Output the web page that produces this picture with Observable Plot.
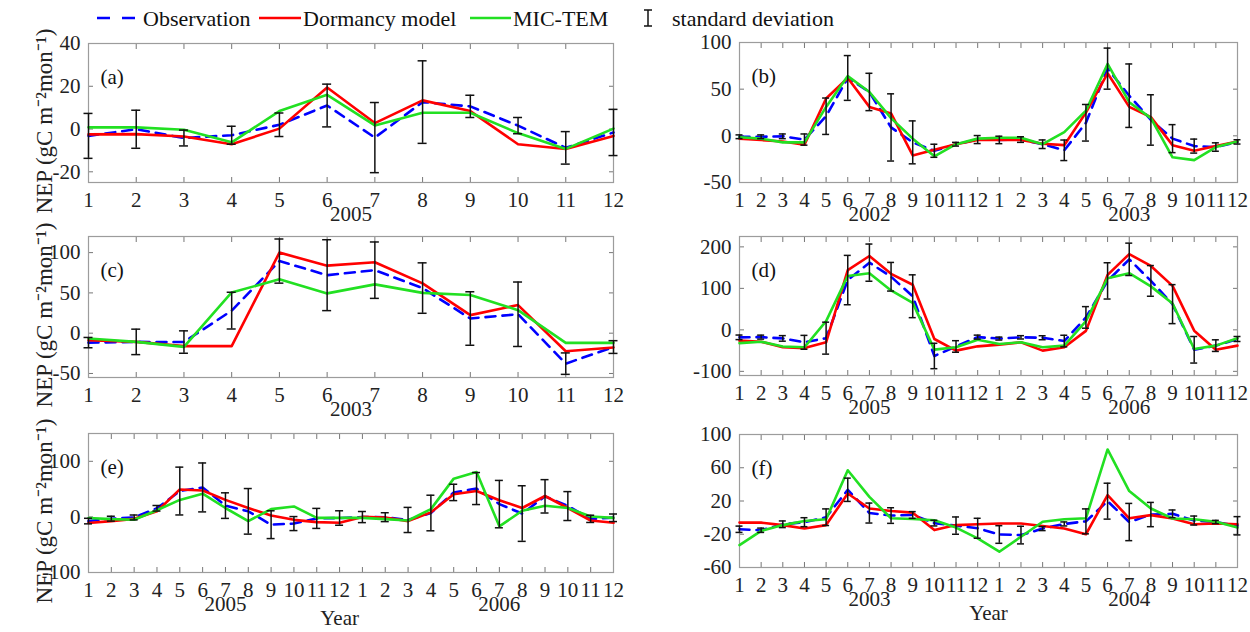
<!DOCTYPE html>
<html>
<head>
<meta charset="utf-8">
<script src="https://cdn.jsdelivr.net/npm/d3@7"></script>
<script src="https://cdn.jsdelivr.net/npm/@observablehq/plot@0.6"></script>
<style>
  html, body { margin: 0; padding: 0; background: #fff; overflow: hidden; }
  #wrap { position: relative; width: 1250px; height: 632px; font-family: "Liberation Serif", "Times New Roman", serif; }
  .panel { position: absolute; overflow: visible; }
  #legend { position: absolute; left: 0; top: 0; }
</style>
</head>
<body>
<div id="wrap"><svg id="legend" width="1250" height="38"></svg></div>
<script>
// ---------------- data ----------------
const yLabelText = "NEP (gC m⁻²mon⁻¹)";
const seriesNames = ["Observation", "Dormancy model", "MIC-TEM", "standard deviation"];

// (a) 2005, 12 months
const obsA  = [-3.2, -0.1, -4.2, -2.9, 2.0, 11.0, -4.0, 12.6, 10.6, 1.6, -8.8, -1.6];
const sdA   = [10.5, 8.9, 3.7, 4.2, 5.5, 10.0, 16.4, 19.3, 5.2, 3.8, 7.6, 10.8];
const dormA = [-2.5, -2.4, -3.5, -7.1, 0.2, 19.4, 2.8, 13.4, 8.4, -7.1, -9.3, -3.2];
const micA  = [0.8, 0.8, -0.3, -6.2, 8.4, 16.0, 1.7, 7.6, 7.6, -1.9, -9.3, 0.2];

// (b) 2002-2003, 24 months
const obsB  = [-1, -1, -0.5, -4, 21, 62, 47, 9, -7, -16, -9, -4, -4.4, -4, -9, -15.5, 14, 72, 43, 17, -3, -11, -12, -6.5];
const sdB   = [2, 2, 2.5, 6, 19.5, 24, 20, 36, 23, 7, 2, 4.3, 4, 3, 4.6, 11, 19.6, 22, 34, 27, 15, 7.5, 4.5, 2.3];
const dormB = [-3, -4.5, -6, -9.5, 40, 62, 31, 24, -21, -15, -9, -4.5, -4.4, -4.4, -8.5, -10, 25, 67, 31, 20, -10, -16, -11, -6];
const micB  = [-1.5, -3, -7, -7, 31, 64, 47, 19, -3, -22, -9, -3, -2, -2, -9, 4, 27, 77, 36, 19, -23, -26, -12, -6];

// (c) 2003, 12 months
const obsC  = [-11.7, -10.8, -11, 28, 89.5, 72, 78.2, 56, 18.2, 23.5, -37.8, -17.2];
const sdC   = [6.4, 15.8, 13.9, 22.8, 27.4, 44, 35, 31.3, 33.2, 40, 13.3, 7.9];
const dormC = [-8.7, -10.8, -16, -16, 100, 83.8, 88, 61.8, 22.4, 34.9, -22.4, -17.8];
const micC  = [-6.6, -10.8, -17, 50.6, 66.8, 49.4, 60.6, 50, 47.3, 28.6, -12, -12];

// (d) 2005-2006, 24 months
const obsD  = [-18, -17.5, -20.6, -30, -20, 120, 162, 128, 81, -63, -40, -17.5, -21, -18, -19, -27, 30, 118, 170, 118, 62, -48, -38, -22];
const sdD   = [5.5, 4.8, 6.7, 16.7, 38.5, 59.5, 44.8, 34.5, 51.6, 30.6, 13.9, 4.8, 3.6, 4, 4.8, 14, 26, 43.7, 39, 37, 47, 32, 14, 6];
const dormD = [-26, -28.6, -42, -44, -30, 144, 178, 135, 108.7, -22, -50, -39.7, -35.7, -30, -50, -42, -2.4, 132.5, 182.5, 154, 106, -2, -48, -38];
const micD  = [-32, -28.6, -40, -42, 21, 130, 136.5, 95, 65, -47.6, -42, -24, -34, -30, -42, -38, 21, 124.6, 136.5, 104.8, 63.5, -46, -38, -20];

// (e) 2005-2006, 24 months
const obsE  = [-7.5, -3.2, -1, 15.5, 46.5, 53, 20.3, 10, -14, -12, -2.7, -2, -0.3, -0.5, -5.5, 7, 44, 51, 23, 6, 37, 19.5, -3.5, -1.6];
const sdE   = [5, 4.4, 4.4, 5, 43, 44, 23, 41, 25, 12.6, 18, 13, 10, 8, 22.6, 32, 14.7, 28.8, 42.6, 50, 30, 26, 6.5, 6.8];
const dormE = [-11, -7.6, -3.5, 10, 49.4, 47.6, 30.6, 16, 2.4, -5.3, -9.4, -10.6, 0, -1, -7.6, 8.2, 40.6, 46.5, 30, 16, 37.6, 16, -6.5, -10.6];
const micE  = [-2, -4, -5, 12, 30.6, 41.8, 16, -7.6, 14, 18.8, -1.8, -1.8, -1.8, -4, -6.5, 14, 68.8, 80.6, -17, 11, 20, 16, 0.6, -1.8];

// (f) 2003-2004, 24 months
const obsF  = [-14, -15.2, -8, -5.5, 0.5, 33.5, 5.5, 2.5, 3.2, -6.6, -9.6, -12.8, -20.3, -21, -13.2, -7.6, -4.5, 19.8, -5.3, 3.7, 4.6, -3.5, -5.3, -9.8];
const sdF   = [3.8, 2.6, 4, 5.4, 10, 14, 12, 9.4, 4, 3.4, 10.4, 12, 10.6, 10.6, 2.4, 2.4, 15, 21.6, 22.4, 14.6, 4.6, 5.4, 2, 11];
const dormF = [-6, -6, -9, -13, -9, 29, 11, 8, 6, -15, -9, -8, -7, -7, -10, -13, -20, 27, -0.8, 3, -1, -8, -7, -8];
const micF  = [-33, -16, -9, -4, -2, 57, 25, -0.8, -1.6, -3.2, -12, -25, -41, -23, -5, -2, -0.8, 82, 32, 11, -1, -2, -5, -12];

// tick values & year labels
const ticksA = [-20, 0, 20, 40];
const ticksB = [-50, 0, 50, 100];
const ticksC = [-50, 0, 50, 100];
const ticksD = [-100, 0, 100, 200];
const ticksE = [-100, 0, 100];
const ticksF = [-60, -20, 20, 60, 100];
const yearsA = [{x: 6.5, t: "2005"}];
const yearsB = [{x: 7, t: "2002"}, {x: 19, t: "2003"}];
const yearsC = [{x: 6.5, t: "2003"}];
const yearsD = [{x: 7, t: "2005"}, {x: 19, t: "2006"}];
const yearsE = [{x: 7, t: "2005"}, {x: 19, t: "2006"}];
const yearsF = [{x: 7, t: "2003"}, {x: 19, t: "2004"}];

// ---------------- style ----------------
const FONT = '"Liberation Serif", "Times New Roman", serif';
const C_OBS = "#0000ff", C_DORM = "#ff0000", C_MIC = "#22e022";
const DASH = "10,7";

function makePanel(cfg) {
  const n = cfg.obs.length;
  const months = d3.range(1, n + 1);
  const rows = months.map((m, i) => ({
    m, obs: cfg.obs[i], lo: cfg.obs[i] - cfg.sd[i], hi: cfg.obs[i] + cfg.sd[i],
    dorm: cfg.dorm[i], mic: cfg.mic[i]
  }));
  const fw = cfg.width - cfg.mL - cfg.mR;
  const cap = cfg.capPx / (fw / (n - 1));
  const marks = [
    Plot.axisX({ticks: months, tickSize: -5, tickPadding: 15, tickFormat: d => String((d - 1) % 12 + 1), label: null, stroke: "#777", fill: "#222"}),
    Plot.axisX({anchor: "top", ticks: months, tickSize: -5, tickFormat: () => "", label: null, stroke: "#777"}),
    Plot.axisY({ticks: cfg.yTicks, tickSize: -5, tickPadding: 13, label: null, stroke: "#777", fill: "#222", tickFormat: d => String(d)}),
    Plot.axisY({anchor: "right", ticks: cfg.yTicks, tickSize: -5, tickFormat: () => "", label: null, stroke: "#777"}),
    Plot.frame({stroke: "#9c9c9c", strokeWidth: 1.2}),
    Plot.lineY(rows, {x: "m", y: "obs", stroke: C_OBS, strokeWidth: 2.6, strokeDasharray: DASH}),
    Plot.lineY(rows, {x: "m", y: "dorm", stroke: C_DORM, strokeWidth: 2.6}),
    Plot.lineY(rows, {x: "m", y: "mic", stroke: C_MIC, strokeWidth: 2.6}),
    Plot.ruleX(rows, {x: "m", y1: "lo", y2: "hi", stroke: "#111", strokeWidth: 1.5}),
    Plot.ruleY(rows, {x1: d => d.m - cap, x2: d => d.m + cap, y: "hi", stroke: "#111", strokeWidth: 1.5}),
    Plot.ruleY(rows, {x1: d => d.m - cap, x2: d => d.m + cap, y: "lo", stroke: "#111", strokeWidth: 1.5}),
    Plot.text([cfg.letter], {frameAnchor: "top-left", dx: 12, dy: 26, textAnchor: "start", fill: "#111"}),
    Plot.text(cfg.years, {x: "x", text: "t", frameAnchor: "bottom", dy: 38, fill: "#222"})
  ];
  if (cfg.yLabel) marks.push(Plot.text([yLabelText], {frameAnchor: "left", dx: -44, dy: 8, rotate: -90, textAnchor: "middle", fontSize: 23, fill: "#222"}));
  if (cfg.xLabelAt) marks.push(Plot.text([{x: cfg.xLabelAt, t: "Year"}], {x: "x", text: "t", frameAnchor: "bottom", dy: 52, fill: "#222"}));
  const svg = Plot.plot({
    width: cfg.width, height: cfg.height,
    marginLeft: cfg.mL, marginRight: cfg.mR, marginTop: cfg.mT, marginBottom: cfg.mB,
    style: {fontFamily: FONT, fontSize: "21px", background: "transparent", color: "#222", overflow: "visible"},
    x: {domain: [1, n]},
    y: {domain: cfg.yDomain},
    marks
  });
  svg.classList.add("panel");
  svg.style.left = cfg.left + "px";
  svg.style.top = cfg.top + "px";
  svg.style.overflow = "visible";
  document.getElementById("wrap").appendChild(svg);
}

const L = {left: 0, width: 630, mL: 88, mR: 17};
const R = {left: 630, width: 620, mL: 109, mR: 13};

makePanel({...L, top: 29, height: 215, mT: 14, mB: 62, obs: obsA, sd: sdA, dorm: dormA, mic: micA, yDomain: [-25, 40], yTicks: ticksA, letter: "(a)", years: yearsA, yLabel: true, capPx: 4.5});
makePanel({...R, top: 28, height: 216, mT: 14, mB: 62, obs: obsB, sd: sdB, dorm: dormB, mic: micB, yDomain: [-50, 100], yTicks: ticksB, letter: "(b)", years: yearsB, capPx: 3.5});
makePanel({...L, top: 222, height: 217, mT: 14, mB: 62, obs: obsC, sd: sdC, dorm: dormC, mic: micC, yDomain: [-55, 120], yTicks: ticksC, letter: "(c)", years: yearsC, yLabel: true, capPx: 4.5});
makePanel({...R, top: 222, height: 215, mT: 14, mB: 62, obs: obsD, sd: sdD, dorm: dormD, mic: micD, yDomain: [-110, 225], yTicks: ticksD, letter: "(d)", years: yearsD, capPx: 3.5});
makePanel({...L, top: 419, height: 211, mT: 14, mB: 58, obs: obsE, sd: sdE, dorm: dormE, mic: micE, yDomain: [-100, 150], yTicks: ticksE, letter: "(e)", years: yearsE, yLabel: true, xLabelAt: 12, capPx: 4});
makePanel({...R, top: 420, height: 205, mT: 14, mB: 58, obs: obsF, sd: sdF, dorm: dormF, mic: micF, yDomain: [-60, 100], yTicks: ticksF, letter: "(f)", years: yearsF, xLabelAt: 12.5, capPx: 3.5});

// ---------------- legend ----------------
const lg = d3.select("#legend").style("font-family", FONT).style("font-size", "22px");
const ly = 18;
lg.append("line").attr("x1", 97).attr("x2", 136).attr("y1", ly).attr("y2", ly)
  .attr("stroke", C_OBS).attr("stroke-width", 2.6).attr("stroke-dasharray", "13,12");
lg.append("text").attr("x", 143).attr("y", ly).attr("dy", "0.35em").attr("fill", "#111").text(seriesNames[0]);
lg.append("line").attr("x1", 259).attr("x2", 301).attr("y1", ly).attr("y2", ly).attr("stroke", C_DORM).attr("stroke-width", 2.6);
lg.append("text").attr("x", 303).attr("y", ly).attr("dy", "0.35em").attr("fill", "#111").text(seriesNames[1]);
lg.append("line").attr("x1", 470).attr("x2", 511).attr("y1", ly).attr("y2", ly).attr("stroke", C_MIC).attr("stroke-width", 2.6);
lg.append("text").attr("x", 513).attr("y", ly).attr("dy", "0.35em").attr("fill", "#111").text(seriesNames[2]);
const eb = lg.append("g").attr("stroke", "#111").attr("stroke-width", 1.5);
eb.append("line").attr("x1", 648).attr("x2", 648).attr("y1", ly - 8).attr("y2", ly + 8);
eb.append("line").attr("x1", 644).attr("x2", 652).attr("y1", ly - 8).attr("y2", ly - 8);
eb.append("line").attr("x1", 644).attr("x2", 652).attr("y1", ly + 8).attr("y2", ly + 8);
lg.append("text").attr("x", 672).attr("y", ly).attr("dy", "0.35em").attr("fill", "#111").text(seriesNames[3]);
</script>
</body>
</html>
